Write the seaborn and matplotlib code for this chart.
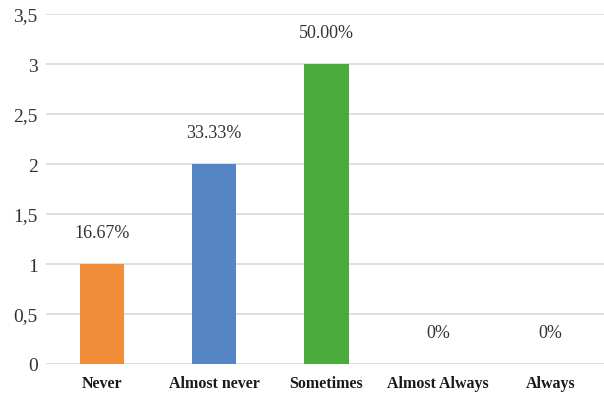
import matplotlib
matplotlib.use("Agg")
import matplotlib.pyplot as plt
import seaborn as sns
import pandas as pd

categories = ["Never", "Almost never", "Sometimes", "Almost Always", "Always"]
counts = [1, 2, 3, 0, 0]
percent_labels = ["16.67%", "33.33%", "50.00%", "0%", "0%"]
colors = ["#F28E3A", "#5585C5", "#4AAA3A", "#A5A5A5", "#FFC000"]
y_ticks = [0, 0.5, 1, 1.5, 2, 2.5, 3, 3.5]
y_tick_labels = ["0", "0,5", "1", "1,5", "2", "2,5", "3", "3,5"]

sns.set_theme(style="white")
plt.rcParams["font.family"] = ["Liberation Serif", "DejaVu Serif"]

df = pd.DataFrame({"category": categories, "count": counts})

fig = plt.figure(figsize=(6.04, 4.02), dpi=100)
ax = fig.add_axes([46 / 604, 37 / 402, 558 / 604, 350 / 402])

sns.barplot(data=df, x="category", y="count", hue="category",
            palette=dict(zip(categories, colors)), width=0.4,
            legend=False, ax=ax, saturation=1, linewidth=0, zorder=3)

ax.set_ylim(0, 3.5)
ax.set_xlim(-0.5, 4.48)
ax.set_yticks(y_ticks)
ax.set_yticklabels(y_tick_labels, fontsize=14, color="#333333")
ax.yaxis.grid(True, color="#D9D9D9", linewidth=1.2, zorder=0)
ax.set_axisbelow(True)
for s in ax.spines.values():
    s.set_visible(False)
ax.tick_params(axis="x", length=0, pad=8)
ax.tick_params(axis="y", length=0, pad=6)
ax.set_xlabel("")
ax.set_ylabel("")
for lbl in ax.get_xticklabels():
    lbl.set_fontweight("bold")
    lbl.set_fontsize(11.5)
    lbl.set_color("#1a1a1a")

for i, (v, t) in enumerate(zip(counts, percent_labels)):
    ax.annotate(t, xy=(i, v), xytext=(0, 23), textcoords="offset points",
                ha="center", va="center", fontsize=13, color="#333333")

fig.savefig("out.png", dpi=100)
